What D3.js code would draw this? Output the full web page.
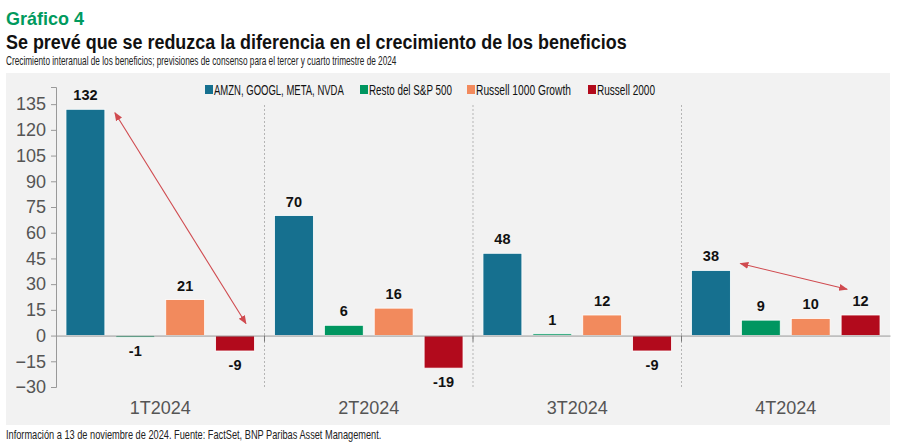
<!DOCTYPE html>
<html>
<head>
<meta charset="utf-8">
<script src="https://cdn.jsdelivr.net/npm/d3@7"></script>
<style>
  body { margin: 0; background: #fff; }
  text { font-family: "Liberation Sans", Arial, sans-serif; }
</style>
</head>
<body>
<div id="chart"></div>
<script>
var width = 900;
var height = 446;

var categories = ["1T2024", "2T2024", "3T2024", "4T2024"];
var seriesNames = ["AMZN, GOOGL, META, NVDA", "Resto del S&P 500", "Russell 1000 Growth", "Russell 2000"];
var seriesColors = ["#16708f", "#009660", "#f28a5d", "#b20a1c"];
var values = [
  [132, -1, 21, -9],
  [70, 6, 16, -19],
  [48, 1, 12, -9],
  [38, 9, 10, 12]
];
var yTicks = [-30, -15, 0, 15, 30, 45, 60, 75, 90, 105, 120, 135];

// arrows: category, [series, value] -> [series, value]
var arrows = [
  { cat: "1T2024", from: [0, 130], to: [3, 7] },
  { cat: "4T2024", from: [0, 42], to: [3, 27] }
];

var plot = { left: 56, right: 890, top: 87, bottom: 387 };

var svg = d3.select("#chart").append("svg")
  .attr("width", width)
  .attr("height", height);

svg.append("rect")
  .attr("x", 6).attr("y", 73)
  .attr("width", 884).attr("height", 352)
  .attr("fill", "#f2f2f2");

// the house font is narrow: squeeze text horizontally to the target width
function squeeze(sel, x, y, w) {
  sel.each(function () {
    var natural = this.getComputedTextLength();
    d3.select(this).attr("transform",
      "translate(" + x + "," + y + ") scale(" + (w / natural) + ",1)");
  });
  return sel;
}
squeeze(svg.append("text")
  .attr("font-size", 19).attr("font-weight", "bold").attr("fill", "#009a5e")
  .text("Gráfico 4"), 6, 25, 78);
squeeze(svg.append("text")
  .attr("font-size", 21).attr("font-weight", "bold").attr("fill", "#111")
  .text("Se prevé que se reduzca la diferencia en el crecimiento de los beneficios"), 6, 49, 621);
squeeze(svg.append("text")
  .attr("font-size", 12.5).attr("fill", "#222")
  .text("Crecimiento interanual de los beneficios; previsiones de consenso para el tercer y cuarto trimestre de 2024"), 6, 64.5, 391);
squeeze(svg.append("text")
  .attr("font-size", 12).attr("fill", "#222")
  .text("Información a 13 de noviembre de 2024. Fuente: FactSet, BNP Paribas Asset Management."), 6, 439, 376);

var y = d3.scaleLinear()
  .domain([-30, 145])
  .range([plot.bottom, plot.top]);

var x0 = d3.scaleBand()
  .domain(categories)
  .range([plot.left, plot.right])
  .padding(0);

var x1 = d3.scaleBand()
  .domain(d3.range(seriesNames.length))
  .range([0, x0.bandwidth()])
  .paddingInner(0.22)
  .paddingOuter(0.2);

var g = svg.append("g");

// category separators
g.selectAll("line.sep")
  .data(categories.slice(1))
  .enter().append("line")
  .attr("class", "sep")
  .attr("x1", function (d) { return x0(d); })
  .attr("x2", function (d) { return x0(d); })
  .attr("y1", 105).attr("y2", plot.bottom)
  .attr("stroke", "#b5b5b5")
  .attr("stroke-width", 1)
  .attr("stroke-dasharray", "2,2");

// y axis
var yAxis = g.append("g")
  .attr("transform", "translate(" + plot.left + ",0)")
  .call(d3.axisLeft(y).tickValues(yTicks).tickSize(5).tickPadding(5));
yAxis.select(".domain").attr("stroke", "#999");
yAxis.selectAll(".tick line").attr("stroke", "#999");
yAxis.selectAll(".tick text")
  .attr("font-size", 18).attr("fill", "#555")
  .style("font-family", "'Liberation Sans', Arial, sans-serif");

// bars
var groups = g.selectAll("g.cat")
  .data(categories)
  .enter().append("g")
  .attr("class", "cat")
  .attr("transform", function (d) { return "translate(" + x0(d) + ",0)"; });

groups.selectAll("rect")
  .data(function (d, i) { return values[i].map(function (v, j) { return { s: j, v: v }; }); })
  .enter().append("rect")
  .attr("x", function (d) { return x1(d.s); })
  .attr("y", function (d) { return y(Math.max(0, d.v)); })
  .attr("width", x1.bandwidth())
  .attr("height", function (d) { return Math.abs(y(d.v) - y(0)); })
  .attr("fill", function (d) { return seriesColors[d.s]; })
  .attr("stroke", "#fff")
  .attr("stroke-width", 0.8);

groups.selectAll("text.val")
  .data(function (d, i) { return values[i].map(function (v, j) { return { s: j, v: v }; }); })
  .enter().append("text")
  .attr("class", "val")
  .attr("x", function (d) { return x1(d.s) + x1.bandwidth() / 2; })
  .attr("y", function (d) { return d.v >= 0 ? y(d.v) - 9 : y(d.v) + 19; })
  .attr("text-anchor", "middle")
  .attr("font-size", 14.5)
  .attr("font-weight", "bold")
  .attr("fill", "#111")
  .text(function (d) { return d.v; });

// zero axis with category ticks
var xAxis = g.append("g")
  .attr("transform", "translate(0," + y(0) + ")")
  .call(d3.axisBottom(x0).tickValues([]).tickSizeOuter(0));
xAxis.select(".domain").attr("stroke", "#999");
g.selectAll("line.ctick")
  .data(categories.slice(1))
  .enter().append("line")
  .attr("x1", function (d) { return x0(d); })
  .attr("x2", function (d) { return x0(d); })
  .attr("y1", y(0)).attr("y2", y(0) + 6)
  .attr("stroke", "#777");

// category labels
g.selectAll("text.cat")
  .data(categories)
  .enter().append("text")
  .attr("x", function (d) { return x0(d) + x0.bandwidth() / 2; })
  .attr("y", 414)
  .attr("text-anchor", "middle")
  .attr("font-size", 18)
  .attr("fill", "#555")
  .text(function (d) { return d; });

// arrows
var defs = svg.append("defs");
defs.append("marker")
  .attr("id", "ah")
  .attr("viewBox", "0 0 10 10")
  .attr("refX", 9).attr("refY", 5)
  .attr("markerWidth", 8).attr("markerHeight", 8)
  .attr("orient", "auto-start-reverse")
  .append("path")
  .attr("d", "M0,1 L10,5 L0,9 Z")
  .attr("fill", "#d04a4f");

g.selectAll("line.arrow")
  .data(arrows)
  .enter().append("line")
  .attr("x1", function (d) { return x0(d.cat) + x1(d.from[0]) + x1.bandwidth() + 10; })
  .attr("y1", function (d) { return y(d.from[1]); })
  .attr("x2", function (d) { return x0(d.cat) + x1(d.to[0]) + (d.cat === "4T2024" ? 6 : x1.bandwidth() * 0.78); })
  .attr("y2", function (d) { return y(d.to[1]); })
  .attr("stroke", "#d04a4f")
  .attr("stroke-width", 1.1)
  .attr("marker-start", "url(#ah)")
  .attr("marker-end", "url(#ah)");

// legend
var legendX = [205, 360, 467, 588];
var legendW = [130, 83, 95, 58];
var legend = svg.append("g").selectAll("g")
  .data(seriesNames)
  .enter().append("g")
  .attr("transform", function (d, i) { return "translate(" + legendX[i] + ",89)"; });
legend.append("rect")
  .attr("x", 0).attr("y", -4)
  .attr("width", 8).attr("height", 9)
  .attr("fill", function (d, i) { return seriesColors[i]; });
legend.append("text")
  .attr("font-size", 15)
  .attr("fill", "#111")
  .text(function (d) { return d; })
  .each(function (d, i) {
    squeeze(d3.select(this), 9, 5.5, legendW[i]);
  });
</script>
</body>
</html>
